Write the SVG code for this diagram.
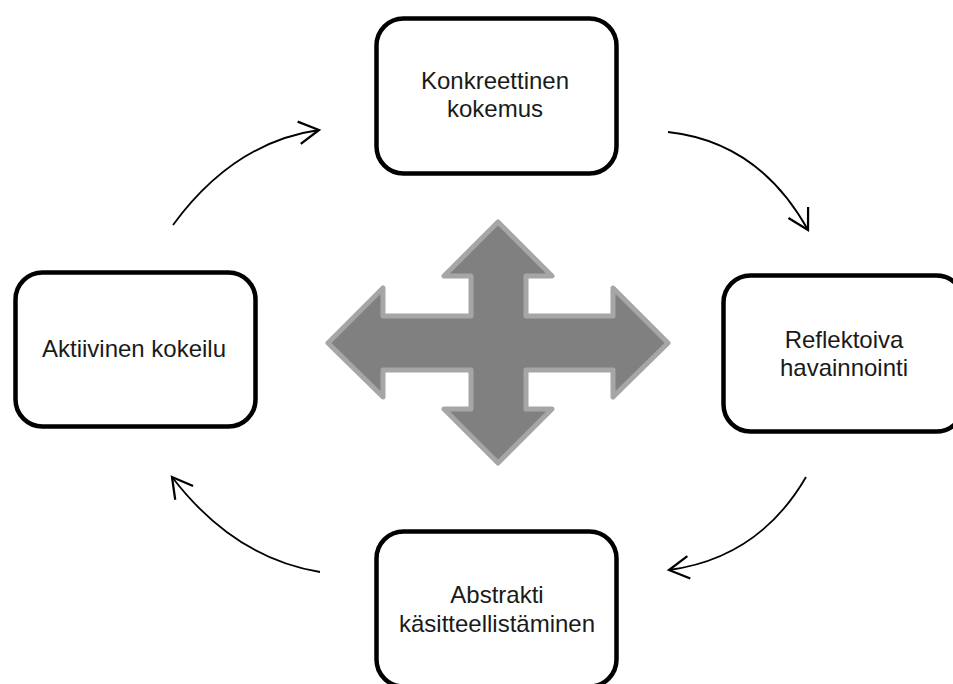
<svg xmlns="http://www.w3.org/2000/svg" width="953" height="684" viewBox="0 0 953 684">
<style>
.box{fill:#fff;stroke:#000;stroke-width:4.5}
.lbl{font-family:"Liberation Sans",Arial,sans-serif;font-size:24px;fill:#1a1a1a;text-anchor:middle}
.con{fill:none;stroke:#000;stroke-width:1.8;marker-end:url(#ah)}
</style>
<defs>
<marker id="ah" markerUnits="userSpaceOnUse" markerWidth="30" markerHeight="30" viewBox="-20 -12 24 24" refX="0" refY="0" orient="auto" overflow="visible">
<path d="M-16,-9 L0,0 L-16,9" fill="none" stroke="#000" stroke-width="1.8" stroke-linejoin="miter"/>
</marker>
</defs>
<rect width="953" height="684" fill="#fff"/>
<g id="cross">
<path d="M498,222 L552,276 L526,276 L526,316 L613,316 L613,288 L668,343 L613,397 L613,370 L526,370 L526,409 L552,409 L498,463 L444,409 L471,409 L471,370 L383,370 L383,397 L328,343 L383,288 L383,316 L471,316 L471,276 L444,276 Z" fill="#808080" stroke="#a6a6a6" stroke-width="5" stroke-linejoin="round"/>
</g>
<g id="connectors">
<path class="con" d="M173,225 Q234,142 319,130"/>
<path class="con" d="M668,132 Q759,142 808,230"/>
<path class="con" d="M806,477 Q759,558 669,570"/>
<path class="con" d="M320,572 Q234,558 172,477"/>
</g>
<g id="node-konkreettinen">
<rect class="box" x="376.5" y="18.5" width="240" height="155" rx="27"/>
<text class="lbl" x="495" y="89">Konkreettinen</text>
<text class="lbl" x="495" y="117">kokemus</text>
</g>
<g id="node-reflektoiva">
<rect class="box" x="723.5" y="275.5" width="240" height="156" rx="27"/>
<text class="lbl" x="844" y="348">Reflektoiva</text>
<text class="lbl" x="844" y="376">havainnointi</text>
</g>
<g id="node-abstrakti">
<rect class="box" x="376.5" y="531.5" width="240" height="155" rx="27"/>
<text class="lbl" x="497" y="603">Abstrakti</text>
<text class="lbl" x="497" y="632">käsitteellistäminen</text>
</g>
<g id="node-aktiivinen">
<rect class="box" x="15.5" y="272.5" width="240" height="154" rx="27"/>
<text class="lbl" x="134" y="357">Aktiivinen kokeilu</text>
</g>
</svg>
